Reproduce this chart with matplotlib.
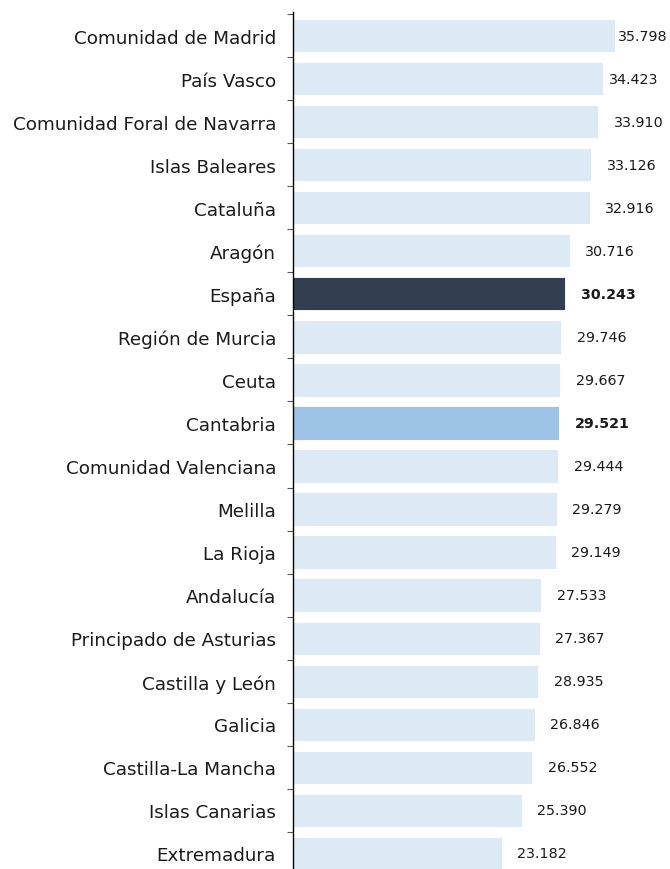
import matplotlib
matplotlib.use("Agg")
import matplotlib.pyplot as plt
from matplotlib.ticker import FixedLocator

regions = [
    "Comunidad de Madrid", "País Vasco", "Comunidad Foral de Navarra",
    "Islas Baleares", "Cataluña", "Aragón", "España", "Región de Murcia",
    "Ceuta", "Cantabria", "Comunidad Valenciana", "Melilla", "La Rioja",
    "Andalucía", "Principado de Asturias", "Castilla y León", "Galicia",
    "Castilla-La Mancha", "Islas Canarias", "Extremadura",
]
# bar lengths as drawn (Castilla y León bar is drawn shorter than its label says)
values = [35.798, 34.423, 33.910, 33.126, 32.916, 30.716, 30.243, 29.746,
          29.667, 29.521, 29.444, 29.279, 29.149, 27.533, 27.367, 27.19,
          26.846, 26.552, 25.390, 23.182]
value_labels = ["35.798", "34.423", "33.910", "33.126", "32.916", "30.716",
                "30.243", "29.746", "29.667", "29.521", "29.444", "29.279",
                "29.149", "27.533", "27.367", "28.935", "26.846", "26.552",
                "25.390", "23.182"]

LIGHT, DARK, MID = "#DDEAF6", "#333F50", "#9DC3E6"
colors = [DARK if r == "España" else MID if r == "Cantabria" else LIGHT for r in regions]
bold = {"España", "Cantabria"}

W, H = 670, 870
fig = plt.figure(figsize=(W / 100, H / 100), dpi=100)
left_px, top_px = 293.3, 13
ax = fig.add_axes([left_px / W, 0, 1 - left_px / W, 1 - top_px / H])

y = list(range(len(regions)))
ax.barh(y, values, height=0.775, color=colors, edgecolor="white", linewidth=0.6)

xmax = (W - left_px) / 9.0
ax.set_xlim(0, xmax)
row_px = 43.05
ax.set_ylim(-0.546 + (H - top_px) / row_px, -0.546)

# labels sit ~15 px right of the bar end; the longest ones are pulled in to fit
gap = 15.5 / 9.0
for yi, v, lab, r in zip(y, values, value_labels, regions):
    x = v + gap if v + gap < 36.0 else min(v + 0.7, 36.1)
    ax.text(x, yi, lab, va="center", ha="left", fontsize=10.3, color="#1a1a1a",
            fontweight="bold" if r in bold else "normal")

ax.set_yticks(y)
ax.set_yticklabels(regions, fontsize=13.2, color="#1a1a1a")
ax.tick_params(axis="y", which="major", length=0, pad=12.5)
ax.yaxis.set_minor_locator(FixedLocator([i - 0.5 for i in range(len(regions) + 1)]))
ax.tick_params(axis="y", which="minor", length=4.5, width=0.8, color="#555555")
ax.set_xticks([])
for s in ["top", "right", "bottom"]:
    ax.spines[s].set_visible(False)
ax.spines["left"].set_linewidth(1.0)
ax.spines["left"].set_color("black")

fig.savefig("out.png", dpi=100)
